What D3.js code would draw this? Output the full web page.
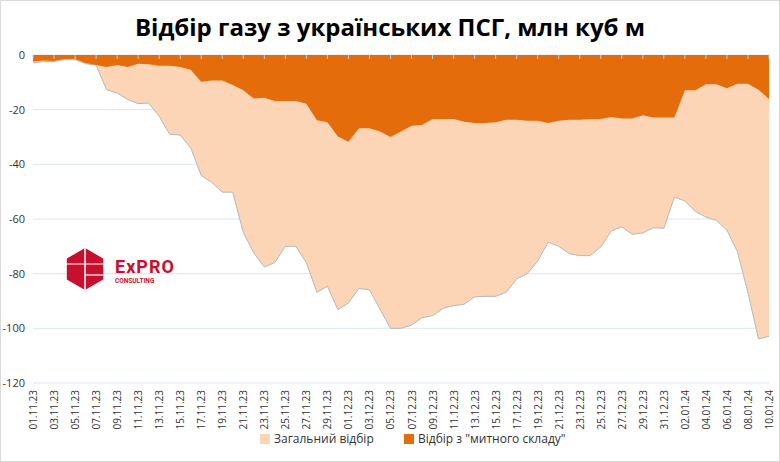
<!DOCTYPE html>
<html>
<head>
<meta charset="utf-8">
<script src="https://cdn.jsdelivr.net/npm/d3@7"></script>
<style>
  body { margin: 0; background: #fff; font-family: "Open Sans", "Noto Sans", sans-serif; }
</style>
</head>
<body>
<svg id="chart" width="780" height="462"></svg>
<script>
// Daily dates 01.11.23 .. 10.01.24
const dates = d3.timeDays(new Date(2023, 10, 1), new Date(2024, 0, 11));

// Total withdrawal (mln m3)
const totalValues = [
  -2.9, -2.4, -2.4, -1.7, -1.7, -3.2, -3.7, -12.7, -13.9, -16.3,
  -17.8, -17.6, -22.4, -29, -29.3, -34, -44.1, -46.6, -50.2, -50.2,
  -65, -72.4, -77.6, -75.9, -70, -70, -76, -86.8, -84.6, -93.2,
  -90.7, -85.4, -85.9, -93, -100, -100, -98.8, -96.1, -95.4, -92.7,
  -91.7, -91.2, -88.5, -88.3, -88.3, -86.8, -81.9, -80, -75.4, -68.5,
  -70, -72.7, -73.4, -73.4, -70.2, -64.4, -62.9, -65.6, -65.1, -63.2,
  -63.4, -52, -53.4, -57.3, -59.3, -60.5, -64.1, -72, -87, -103.9, -102.9
];

// Withdrawal from the "customs warehouse"
const customsValues = [
  -2.4, -2, -2.2, -1.5, -1.5, -2.9, -3.7, -4.4, -3.7, -4.4,
  -3.2, -3.4, -3.9, -3.9, -4.4, -5.4, -9.8, -9.3, -9.3, -11,
  -12.9, -15.9, -15.6, -16.8, -16.8, -16.8, -17.8, -23.9, -24.6, -29.8,
  -31.7, -26.8, -26.8, -28, -30, -28, -25.9, -25.6, -23.4, -23.4,
  -23.4, -24.4, -24.9, -24.9, -24.6, -23.7, -23.7, -24.1, -24.1, -24.9,
  -24.1, -23.7, -23.7, -23.4, -23.4, -22.7, -23.2, -23.2, -22, -22.9,
  -22.9, -22.9, -12.9, -12.9, -10.7, -10.7, -12.2, -10.5, -10.5, -12.7, -16.1
];

const yTicks = [0, -20, -40, -60, -80, -100, -120];
const seriesNames = ["Загальний відбір", "Відбір з \"митного складу\""];
const colors = ["#FBD5B5", "#E46C0A"];

const svg = d3.select("#chart");
const margin = { top: 55, right: 11, bottom: 79, left: 33 };
const width = 780, height = 462;

// outer frame
svg.append("rect").attr("x", 0.5).attr("y", 0.5).attr("width", width - 1).attr("height", height - 1)
  .attr("fill", "none").attr("stroke", "#d9d9d9");

svg.append("text").attr("x", width / 2).attr("y", 36).attr("text-anchor", "middle")
  .attr("font-size", 24).attr("font-weight", "bold").attr("fill", "#000")
  .attr("font-family", "Open Sans, sans-serif")
  .text("Відбір газу з українських ПСГ, млн куб м");

const x = d3.scaleTime()
  .domain(d3.extent(dates))
  .range([margin.left, width - margin.right]);

const y = d3.scaleLinear()
  .domain([-120, 0])
  .range([height - margin.bottom, margin.top]);

// gridlines
svg.append("g").selectAll("line").data(yTicks).join("line")
  .attr("x1", margin.left).attr("x2", width - margin.right)
  .attr("y1", d => y(d)).attr("y2", d => y(d))
  .attr("stroke", "#dce6f2").attr("stroke-width", 1);

// y labels
svg.append("g").selectAll("text").data(yTicks).join("text")
  .attr("x", margin.left - 8).attr("y", d => y(d) + 4)
  .attr("text-anchor", "end").attr("font-size", 11).attr("fill", "#333")
  .text(d => d);

// total area
const areaTotal = d3.area()
  .x((d, i) => x(dates[i]))
  .y0(y(0))
  .y1(d => y(d));
svg.append("path").datum(totalValues)
  .attr("d", areaTotal).attr("fill", colors[0]);
svg.append("path").datum(totalValues)
  .attr("d", d3.line().x((d, i) => x(dates[i])).y(d => y(d)))
  .attr("fill", "none").attr("stroke", "#b8b8b8").attr("stroke-width", 1);

// customs area
svg.append("path").datum(customsValues)
  .attr("d", areaTotal).attr("fill", colors[1]);

// x axis ticks and labels
const fmt = d3.timeFormat("%d.%m.%y");
const ax = svg.append("g");
ax.selectAll("line").data(dates.filter((d, i) => i % 2 === 0)).join("line")
  .attr("x1", d => x(d)).attr("x2", d => x(d))
  .attr("y1", y(0)).attr("y2", y(0) + 4)
  .attr("stroke", "#ccc");
ax.selectAll("text").data(dates.filter((d, i) => i % 2 === 0)).join("text")
  .attr("transform", d => `translate(${x(d) + 4},${y(-120) + 7}) rotate(-90)`)
  .attr("text-anchor", "end").attr("font-size", 10).attr("fill", "#333")
  .text(d => fmt(d));

// logo
const logo = svg.append("g").attr("transform", "translate(85,269)");
const hex = d3.range(6).map(k => {
  const a = Math.PI / 3 * k - Math.PI / 2;
  return [21 * Math.cos(a), 21 * Math.sin(a)];
});
logo.append("polygon").attr("points", hex.map(p => p.join(",")).join(" ")).attr("fill", "#C8102E");
logo.append("line").attr("x1", 0).attr("x2", 0).attr("y1", -21).attr("y2", 21).attr("stroke", "#fff").attr("stroke-width", 1.5);
logo.append("line").attr("x1", -19).attr("x2", 19).attr("y1", -5).attr("y2", -5).attr("stroke", "#fff").attr("stroke-width", 1.2);
logo.append("line").attr("x1", 0).attr("x2", 19).attr("y1", 6).attr("y2", 6).attr("stroke", "#fff").attr("stroke-width", 1.2);
logo.append("text").attr("x", 30).attr("y", 4).attr("font-size", 18).attr("font-weight", "bold").attr("fill", "#C8102E")
  .attr("font-family", "Roboto, sans-serif").attr("letter-spacing", 1).text("ExPRO");
logo.append("text").attr("x", 30).attr("y", 14).attr("font-size", 6.5).attr("font-weight", "bold").attr("fill", "#C8102E")
  .attr("font-family", "Roboto, sans-serif").text("CONSULTING");

// legend
const legend = svg.append("g").attr("transform", "translate(0,443)");
const items = [{ name: seriesNames[0], x: 260 }, { name: seriesNames[1], x: 404 }];
items.forEach((it, i) => {
  legend.append("rect").attr("x", it.x).attr("y", -9).attr("width", 10).attr("height", 10).attr("fill", colors[i]);
  legend.append("text").attr("x", it.x + 14).attr("y", 0).attr("font-size", 12).attr("fill", "#333").text(it.name);
});
</script>
</body>
</html>
